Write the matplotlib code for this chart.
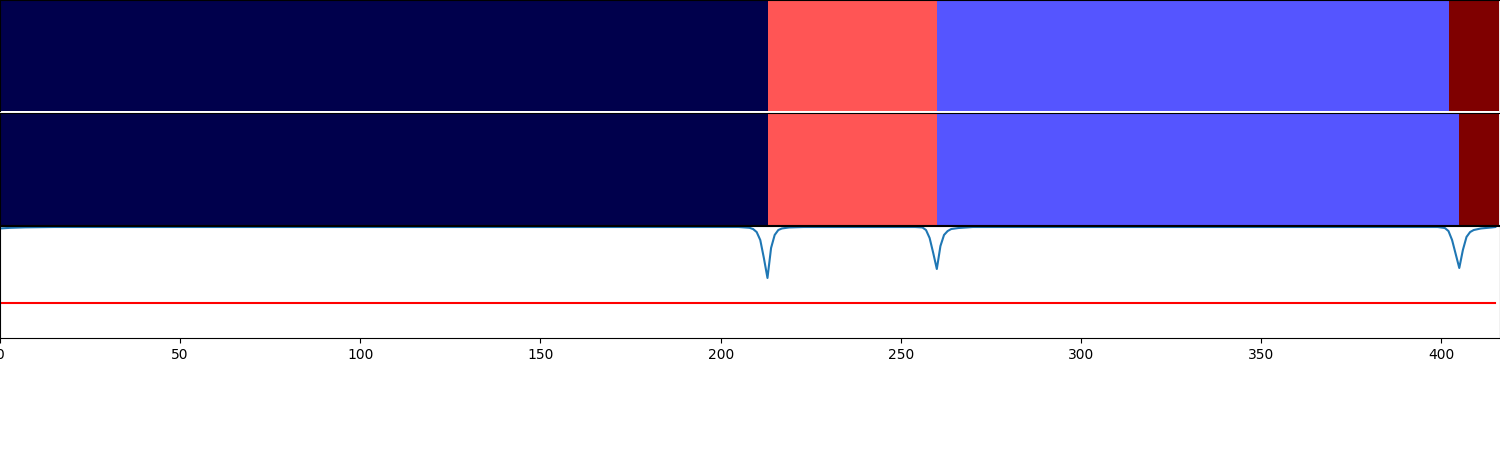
import numpy as np
import matplotlib
matplotlib.use("Agg")
import matplotlib.pyplot as plt

n_samples = 416
# segment breakpoints (end indices) and labels for each row
bkps_true = [213, 260, 402, 416]
bkps_pred = [213, 260, 405, 416]
seg_labels = [0, 2, 1, 3]

# score curve (sparse readings)
score_x = [0, 3, 7, 15, 205, 208, 209, 210, 211, 212, 213, 214, 215, 216, 217, 219, 223,
           254, 256, 257, 258, 259, 260, 261, 262, 263, 264, 266, 270,
           399, 401, 402, 403, 404, 405, 406, 407, 408, 409, 411, 414, 415]
score_y = [0.978, 0.984, 0.988, 0.991, 0.991, 0.984, 0.973, 0.946, 0.875, 0.714, 0.536, 0.804,
           0.920, 0.964, 0.978, 0.987, 0.991,
           0.991, 0.987, 0.964, 0.893, 0.759, 0.616, 0.821, 0.920, 0.955, 0.973, 0.982, 0.991,
           0.991, 0.982, 0.955, 0.875, 0.750, 0.625, 0.786, 0.902, 0.946, 0.964, 0.978, 0.987, 0.991]
threshold = 0.3125
xticks = [0, 50, 100, 150, 200, 250, 300, 350, 400]


def seg_row(bkps, labels):
    row = np.zeros(n_samples)
    start = 0
    for end, lab in zip(bkps, labels):
        row[start:end] = lab
        start = end
    return row[None, :]


fig = plt.figure(figsize=(15, 4.5), dpi=100)
H = 112 / 450
ax1 = fig.add_axes([0, 339 / 450, 1, 111 / 450])
ax2 = fig.add_axes([0, (450 - 225) / 450, 1, H])
ax3 = fig.add_axes([0, (450 - 338) / 450, 1, H])
ax1.spines["bottom"].set_visible(False)

xmax = 416.3
for ax, bk in ((ax1, bkps_true), (ax2, bkps_pred)):
    ax.imshow(seg_row(bk, seg_labels), aspect="auto", cmap="seismic", vmin=0, vmax=3,
              extent=(0, n_samples, 0, 1), interpolation="nearest")
    ax.set_xlim(0, xmax)
    ax.set_ylim(0, 1)
    ax.set_xticks([])
    ax.set_yticks([])

ax3.plot(score_x, score_y, color="#1f77b4", lw=1.5)
ax3.plot([0, 415], [threshold, threshold], color="red", lw=1.5)
ax3.set_xlim(0, xmax)
ax3.set_ylim(0, 1)
ax3.set_yticks([])
ax3.set_xticks(xticks)

fig.savefig("out.png", dpi=100)
